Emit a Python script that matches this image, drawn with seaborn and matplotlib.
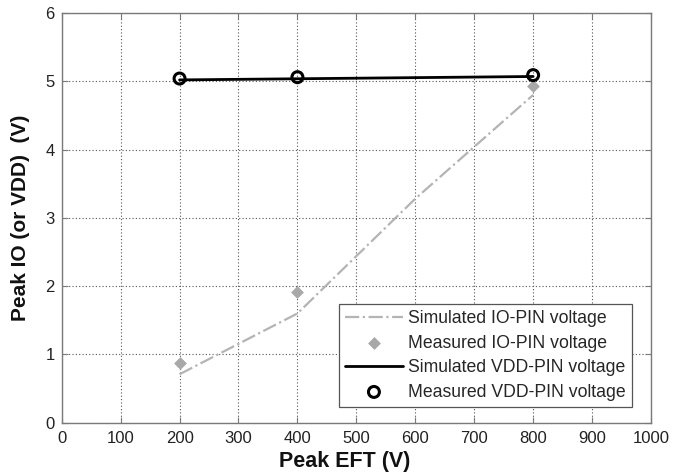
import matplotlib
matplotlib.use("Agg")
import matplotlib.pyplot as plt
import seaborn as sns

# Peak EFT levels (V)
eft_sim_io = [200, 400, 600, 800]
io_simulated = [0.71, 1.60, 3.28, 4.80]

eft_meas = [200, 400, 800]
io_measured = [0.88, 1.92, 4.93]

eft_sim_vdd = [200, 800]
vdd_simulated = [5.02, 5.07]
vdd_measured = [5.04, 5.06, 5.09]

x_ticks = list(range(0, 1001, 100))
y_ticks = list(range(0, 7))

sns.set_theme(style="ticks")
plt.rcParams["font.family"] = ["Liberation Sans", "DejaVu Sans"]

fig = plt.figure(figsize=(6.88, 4.74), dpi=100)
ax = fig.add_axes([0.0897, 0.1082, 0.8565, 0.8644])

sns.lineplot(x=eft_sim_io, y=io_simulated, ax=ax, color="#b4b4b4",
             linestyle="-.", linewidth=1.6, label="Simulated IO-PIN voltage",
             sort=False, zorder=3)
sns.scatterplot(x=eft_meas, y=io_measured, ax=ax, marker="D", s=36,
                color="#a8a8a8", edgecolor="#a8a8a8", linewidth=0.5,
                label="Measured IO-PIN voltage", zorder=4)
sns.lineplot(x=eft_sim_vdd, y=vdd_simulated, ax=ax, color="black",
             linewidth=2.0, label="Simulated VDD-PIN voltage",
             sort=False, zorder=3)
sns.scatterplot(x=eft_meas, y=vdd_measured, ax=ax, marker="o", s=62,
                facecolor="none", edgecolor="black", linewidth=2.2,
                label="Measured VDD-PIN voltage", zorder=5)

ax.set_xlim(0, 1000)
ax.set_ylim(0, 6)
ax.set_xticks(x_ticks)
ax.set_yticks(y_ticks)
ax.tick_params(axis="both", direction="in", length=4, width=0.8,
               labelsize=12, colors="#7a7a7a", labelcolor="#222222",
               top=True, right=True)
ax.tick_params(axis="x", pad=6)
ax.tick_params(axis="y", pad=5)

ax.grid(True, linestyle=(0, (1, 2)), color="#555555", linewidth=0.8)
for sp in ax.spines.values():
    sp.set_visible(True)
    sp.set_color("#7a7a7a")
    sp.set_linewidth(1.0)

ax.set_xlabel("Peak EFT (V)", fontsize=15.5, fontweight="bold", color="#111111")
ax.set_ylabel("Peak IO (or VDD)  (V)", fontsize=15, fontweight="bold", color="#111111")
ax.xaxis.set_label_coords(0.481, -0.068)
ax.yaxis.set_label_coords(-0.054, 0.5)

leg = ax.legend(loc="lower right", bbox_to_anchor=(0.968, 0.039),
                borderaxespad=0, fontsize=12.7, frameon=True, fancybox=False,
                framealpha=1, edgecolor="#555555", handlelength=3.3,
                handletextpad=0.3, labelspacing=0.42, borderpad=0.35)
leg.get_frame().set_linewidth(0.9)

fig.savefig("out.png", dpi=100)
